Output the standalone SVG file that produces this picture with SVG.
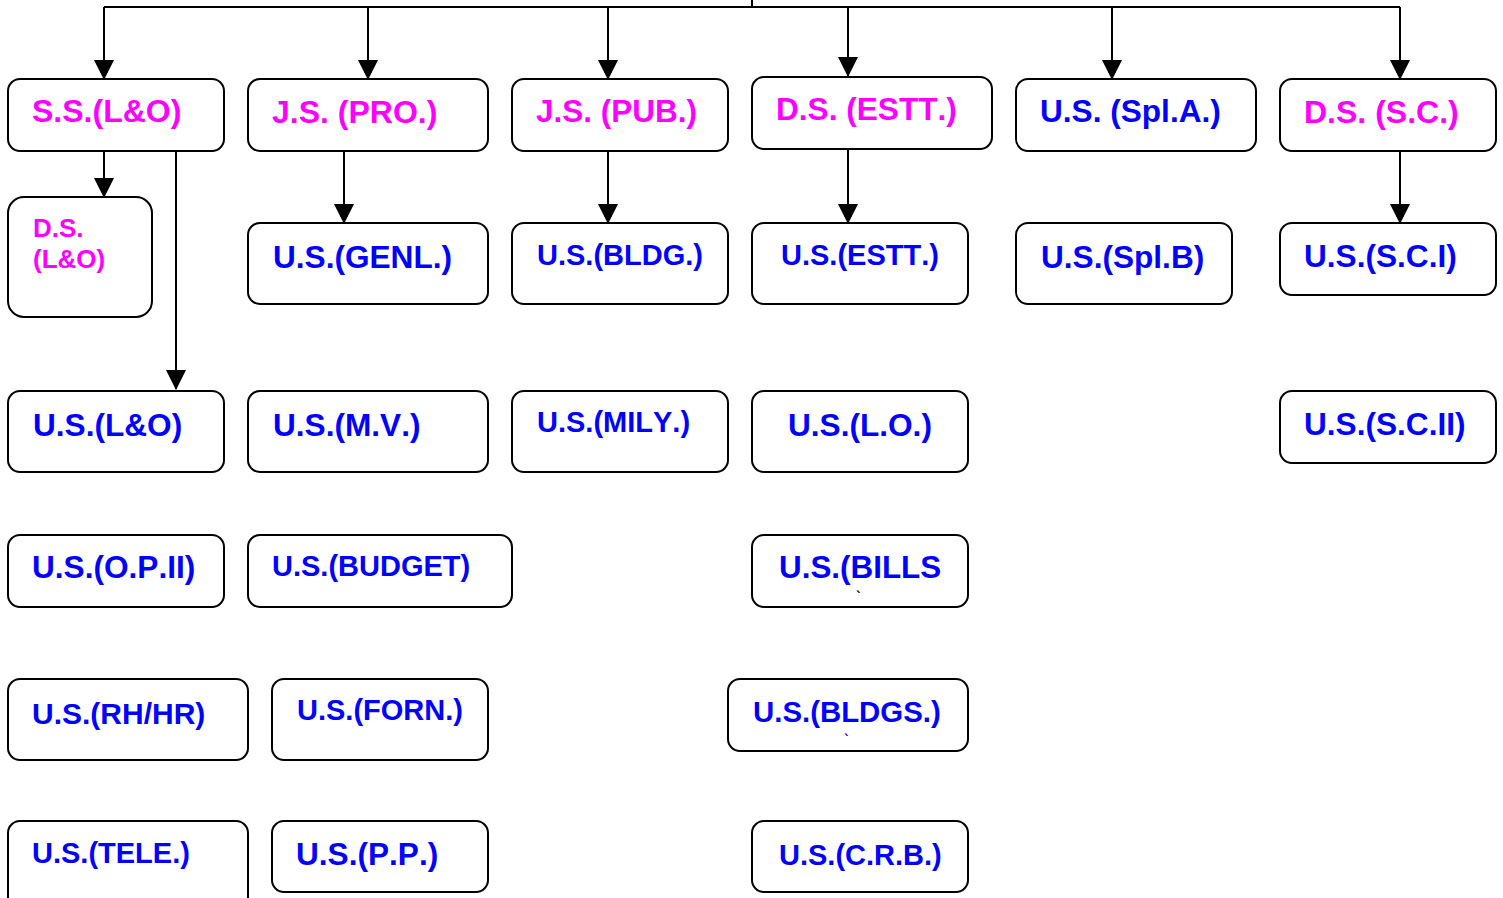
<svg xmlns="http://www.w3.org/2000/svg" width="1503" height="898" viewBox="0 0 1503 898">
<style>
.box{fill:#fff;stroke:#000;stroke-width:2}
.t{font-family:"Liberation Sans",Arial,sans-serif;font-weight:bold;font-kerning:none}
.p{fill:#FF00FF}
.b{fill:#0000FF}
.c{fill:none;stroke:#000;stroke-width:2}
</style>
<defs>
<marker id="ah" markerUnits="userSpaceOnUse" markerWidth="20" markerHeight="20" refX="19" refY="10" orient="auto" viewBox="0 0 20 20">
<path d="M0,0 L20,10 L0,20 z" fill="#000"/>
</marker>
</defs>
<rect width="1503" height="898" fill="#fff"/>
<g id="connectors">
<path class="c" d="M752,0 V7 M104,7 H1400"/>
<path class="c" d="M104,7 V79" marker-end="url(#ah)"/>
<path class="c" d="M368,7 V79" marker-end="url(#ah)"/>
<path class="c" d="M608,7 V79" marker-end="url(#ah)"/>
<path class="c" d="M848,7 V76" marker-end="url(#ah)"/>
<path class="c" d="M1112,7 V79" marker-end="url(#ah)"/>
<path class="c" d="M1400,7 V79" marker-end="url(#ah)"/>
<path class="c" d="M104,148 V197" marker-end="url(#ah)"/>
<path class="c" d="M176,148 V389" marker-end="url(#ah)"/>
<path class="c" d="M344,151 V223" marker-end="url(#ah)"/>
<path class="c" d="M608,151 V223" marker-end="url(#ah)"/>
<path class="c" d="M848,150 V223" marker-end="url(#ah)"/>
<path class="c" d="M1400,151 V223" marker-end="url(#ah)"/>
</g>
<g id="n-ss-lo"><rect class="box" x="8" y="79" width="216" height="72" rx="12"/><text class="t p" x="32" y="122" font-size="32">S.S.(L&amp;O)</text></g>
<g id="n-js-pro"><rect class="box" x="248" y="79" width="240" height="72" rx="12"/><text class="t p" x="272" y="123" font-size="32">J.S. (PRO.)</text></g>
<g id="n-js-pub"><rect class="box" x="512" y="79" width="216" height="72" rx="12"/><text class="t p" x="536" y="122" font-size="31.5">J.S. (PUB.)</text></g>
<g id="n-ds-estt"><rect class="box" x="752" y="77" width="240" height="72" rx="12"/><text class="t p" x="776" y="120" font-size="31.6">D.S. (ESTT.)</text></g>
<g id="n-us-spla"><rect class="box" x="1016" y="79" width="240" height="72" rx="12"/><text class="t b" x="1040" y="122" font-size="31.6">U.S. (Spl.A.)</text></g>
<g id="n-ds-sc"><rect class="box" x="1280" y="79" width="216" height="72" rx="12"/><text class="t p" x="1304" y="123" font-size="32">D.S. (S.C.)</text></g>
<g id="n-ds-lo"><rect class="box" x="8" y="197" width="144" height="120" rx="16"/><text class="t p" font-size="26"><tspan x="33" y="237">D.S.</tspan><tspan x="33" y="268">(L&amp;O)</tspan></text></g>
<g id="n-us-genl"><rect class="box" x="248" y="223" width="240" height="81" rx="12"/><text class="t b" x="273" y="268" font-size="31.6">U.S.(GENL.)</text></g>
<g id="n-us-bldg"><rect class="box" x="512" y="223" width="216" height="81" rx="12"/><text class="t b" x="537" y="265" font-size="29">U.S.(BLDG.)</text></g>
<g id="n-us-estt"><rect class="box" x="752" y="223" width="216" height="81" rx="12"/><text class="t b" x="781" y="265" font-size="29">U.S.(ESTT.)</text></g>
<g id="n-us-splb"><rect class="box" x="1016" y="223" width="216" height="81" rx="12"/><text class="t b" x="1041" y="268" font-size="31.6">U.S.(Spl.B)</text></g>
<g id="n-us-sci"><rect class="box" x="1280" y="223" width="216" height="72" rx="12"/><text class="t b" x="1304" y="267" font-size="31.6">U.S.(S.C.I)</text></g>
<g id="n-us-lo"><rect class="box" x="8" y="391" width="216" height="81" rx="12"/><text class="t b" x="33" y="436" font-size="31.6">U.S.(L&amp;O)</text></g>
<g id="n-us-mv"><rect class="box" x="248" y="391" width="240" height="81" rx="12"/><text class="t b" x="273" y="436" font-size="31.6">U.S.(M.V.)</text></g>
<g id="n-us-mily"><rect class="box" x="512" y="391" width="216" height="81" rx="12"/><text class="t b" x="537" y="432" font-size="29">U.S.(MILY.)</text></g>
<g id="n-us-l-o"><rect class="box" x="752" y="391" width="216" height="81" rx="12"/><text class="t b" x="788" y="436" font-size="31.6">U.S.(L.O.)</text></g>
<g id="n-us-scii"><rect class="box" x="1280" y="391" width="216" height="72" rx="12"/><text class="t b" x="1304" y="435" font-size="31.6">U.S.(S.C.II)</text></g>
<g id="n-us-opii"><rect class="box" x="8" y="535" width="216" height="72" rx="12"/><text class="t b" x="32" y="578" font-size="31.6">U.S.(O.P.II)</text></g>
<g id="n-us-budget"><rect class="box" x="248" y="535" width="264" height="72" rx="12"/><text class="t b" x="272" y="576" font-size="29">U.S.(BUDGET)</text></g>
<g id="n-us-bills"><rect class="box" x="752" y="535" width="216" height="72" rx="12"/><text class="t b" x="779" y="578" font-size="31.4">U.S.(BILLS</text><text class="t" x="856" y="602" font-size="14" fill="#000">`</text></g>
<g id="n-us-rhhr"><rect class="box" x="8" y="679" width="240" height="81" rx="12"/><text class="t b" x="32" y="724" font-size="30">U.S.(RH/HR)</text></g>
<g id="n-us-forn"><rect class="box" x="272" y="679" width="216" height="81" rx="12"/><text class="t b" x="297" y="720" font-size="29">U.S.(FORN.)</text></g>
<g id="n-us-bldgs"><rect class="box" x="728" y="679" width="240" height="72" rx="12"/><text class="t b" x="753" y="722" font-size="29.4">U.S.(BLDGS.)</text><text class="t b" x="844" y="745" font-size="14">`</text></g>
<g id="n-us-tele"><rect class="box" x="8" y="821" width="240" height="90" rx="12"/><text class="t b" x="32" y="863" font-size="29">U.S.(TELE.)</text></g>
<g id="n-us-pp"><rect class="box" x="272" y="821" width="216" height="71" rx="12"/><text class="t b" x="296" y="865" font-size="31.6">U.S.(P.P.)</text></g>
<g id="n-us-crb"><rect class="box" x="752" y="821" width="216" height="71" rx="12"/><text class="t b" x="779" y="865" font-size="29">U.S.(C.R.B.)</text></g>
</svg>
